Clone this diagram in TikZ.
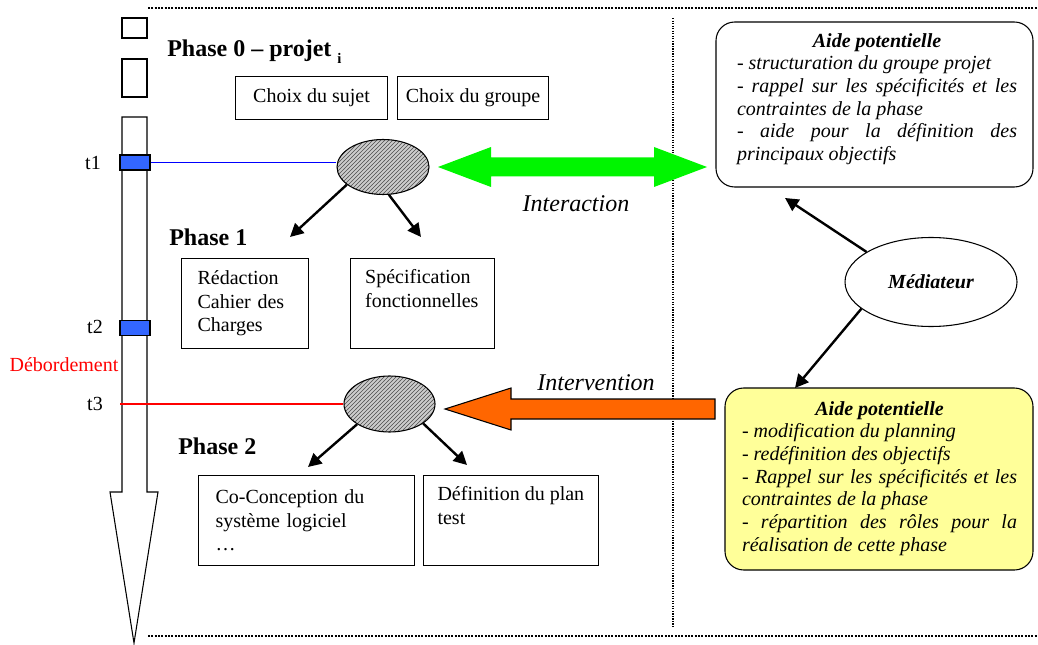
\documentclass[tikz,border=0pt]{standalone}
\usepackage{fontspec}
\setmainfont{Liberation Serif}
\usetikzlibrary{arrows.meta,patterns,shapes.geometric,calc}
\definecolor{markblue}{RGB}{51,102,255}
\definecolor{lineblue}{RGB}{0,0,255}
\definecolor{intergreen}{RGB}{0,245,0}
\definecolor{interorange}{RGB}{255,102,0}
\definecolor{aideyellow}{RGB}{255,255,153}

\begin{document}
\begin{tikzpicture}[x=0.75pt,y=0.75pt,yscale=-1,xscale=1,
	txt/.style={font=\fontsize{15}{17.6}\selectfont},
	titre/.style={font=\fontsize{18}{21}\selectfont\bfseries, anchor=west, inner sep=0pt},
	choixbox/.style={draw, line width=0.8pt, txt, anchor=north west, minimum height=32.25pt, inner sep=0pt},
	tachebox/.style={draw, line width=0.8pt, txt, align=left, anchor=north west, minimum height=67.5pt, inner ysep=0pt},
	tmark/.style={draw, line width=0.8pt, fill=markblue, minimum width=22.5pt, minimum height=11.25pt, inner sep=0pt},
	tlabel/.style={txt, inner sep=0pt},
	bulle/.style={ellipse, draw, line width=0.8pt, minimum width=69pt, minimum height=41.25pt, inner sep=0pt, preaction={fill=gray!40}, pattern=north east lines, pattern color=gray!60!black},
	fleche/.style={-{Triangle[length=10pt,width=10pt]}, line width=1.8pt},
	aidebox/.style={draw, line width=0.8pt, rounded corners=14pt, inner sep=0pt},
	aidetext/.style={font=\fontsize{15}{17}\selectfont\itshape, align=justify, inner sep=0pt, anchor=north},
	actiontxt/.style={font=\fontsize{18}{21}\selectfont\itshape, inner sep=0pt}
]
	\useasboundingbox (0,0) rectangle (1038,645);

	%Dotted frame
	\draw [line width=1.5pt, densely dotted] (148,8) -- (1038,8) ;
	\draw [line width=1.5pt, densely dotted] (148,636) -- (1038,636) ;
	\draw [line width=0.9pt, densely dotted] (673,18) -- (673,628) ;

	%Shape: time line
	\draw [line width=0.8pt] (122,18) rectangle (147,38) ;
	\draw [line width=0.8pt] (122,59) rectangle (147,97) ;
	\draw [line width=0.8pt] (122,117) -- (122,492) -- (110,492) -- (134,643) -- (158,492) -- (147,492) -- (147,117) -- cycle ;

	% Time marks
	\node [tmark] (t1m) at (135,162.5) {};
	\node [tmark] (t2m) at (135,328) {};
	\coordinate (t3s) at (120,404);
	\node [tlabel] (t1) at (93,163) {t1};
	\node [tlabel] (t2) at (95,327) {t2};
	\node [tlabel] (t3) at (95,404) {t3};
	\node [tlabel, text=red] (debord) at (64,365) {Débordement};

	%Phase 0
	\node [titre] (ph0) at (167,52) {Phase 0 – projet \raisebox{-0.3em}{\fontsize{11}{12}\selectfont i}};
	\node [choixbox, minimum width=114pt] (sujet) at (235,76) {Choix du sujet};
	\node [choixbox, minimum width=113.25pt] (groupe) at (397,76) {Choix du groupe};

	%Bubbles
	\node [bulle] (e1) at (383,167) {};
	\node [bulle, minimum width=68.25pt, minimum height=42pt] (e2) at (389.5,404) {};
	\draw [lineblue, line width=0.75pt] (t1m.east) -- (t1m.east -| e1.west) ;
	\draw [red, line width=1pt] (t3s) -- (e2.west) ;

	%Phase 1
	\node [titre] (ph1) at (169,237) {Phase 1};
	\node [tachebox, text width=71pt, inner xsep=12pt] (redac) at (181,258) {Rédaction\\Cahier des\\Charges};
	\node [tachebox, text width=86pt, inner xsep=11pt] (specif) at (350,258) {Spécification\\fonctionnelles\\\strut};
	\coordinate (a1) at (290,237);
	\coordinate (a2) at (421,237);
	\draw [fleche] (e1.206) -- (a1) ;
	\draw [fleche] (e1.282) -- (a2) ;

	%Phase 2
	\node [titre] (ph2) at (178,446) {Phase 2};
	\node [tachebox, text width=136.5pt, inner xsep=12.75pt] (concep) at (198,475) {Co-Conception du\\système logiciel\\\dots};
	\node [tachebox, minimum width=99.75pt, inner xsep=10.5pt] (plantest) at (423,475) {Définition du plan\\test\\\strut};
	\coordinate (b1) at (308,467);
	\coordinate (b2) at (467,465);
	\draw [fleche] (e2.212) -- (b1) ;
	\draw [fleche] (e2.330) -- (b2) ;

	%Shape: double arrow (interaction)
	\fill [intergreen] (438,167) -- (491,147) -- (491,157.5) -- (654,157.5) -- (654,147) -- (707,167) -- (654,187) -- (654,176.5) -- (491,176.5) -- (491,187) -- cycle ;
	\node [actiontxt] (interac) at (576,204) {Interaction};

	%Shape: arrow (intervention)
	\draw [fill=interorange, line width=0.8pt] (445,409) -- (511,388) -- (511,399) -- (715,399) -- (715,419) -- (511,419) -- (511,430) -- cycle ;
	\node [actiontxt] (interv) at (596,383) {Intervention};

	%Aide potentielle (haut)
	\node [aidebox, fill=white, minimum width=237.75pt, minimum height=123.75pt] (aide1) at (874.5,104.5) {};
	\node [aidetext, text width=210pt] (aide1txt) at ($(aide1.north)+(2.5,11.5)$) {{\centering\bfseries Aide potentielle\par}
		- structuration du groupe projet\par
		- rappel sur les spécificités et les\linebreak contraintes de la phase\par
		- aide pour la définition des\linebreak principaux objectifs};

	%Mediateur
	\node [ellipse, draw, line width=0.8pt, minimum width=129pt, minimum height=66.75pt, inner sep=0pt, font=\fontsize{15}{17}\selectfont\bfseries\itshape] (med) at (931,282) {Médiateur};
	\coordinate (c1) at (785,198);
	\coordinate (c2) at (795,388);
	\draw [fleche] (med.155) -- (c1) ;
	\draw [fleche] (med.201) -- (c2) ;

	%Aide potentielle (bas)
	\node [aidebox, fill=aideyellow, minimum width=231pt, minimum height=136.5pt] (aide2) at (879,479) {};
	\node [aidetext, text width=206.25pt] (aide2txt) at ($(aide2.north)+(0.5,13.5)$) {{\centering\bfseries Aide potentielle\par}
		- modification du planning\par
		- redéfinition des objectifs\par
		- Rappel sur les spécificités et les\linebreak contraintes de la phase\par
		- répartition des rôles pour la\linebreak réalisation de cette phase};

\end{tikzpicture}
\end{document}
